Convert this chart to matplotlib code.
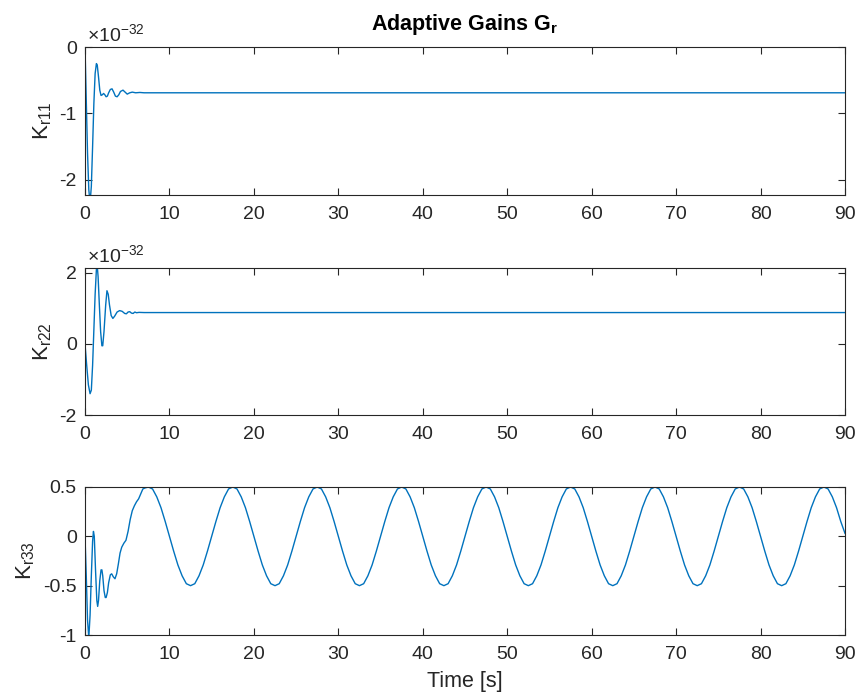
import numpy as np
import matplotlib
matplotlib.use('Agg')
import matplotlib.pyplot as plt

plt.rcParams['font.family'] = ['Liberation Sans', 'DejaVu Sans']
plt.rcParams['mathtext.fontset'] = 'custom'
plt.rcParams['mathtext.rm'] = 'Liberation Sans'
plt.rcParams['mathtext.it'] = 'Liberation Sans'
plt.rcParams['mathtext.bf'] = 'Liberation Sans:bold'

# K_r11 (units of 1e-32)
t1 = [0, 0.15, 0.3, 0.45, 0.6, 0.75, 0.9, 1.05, 1.2, 1.35, 1.45, 1.6, 1.75, 1.9,
      2.05, 2.2, 2.35, 2.5, 2.65, 2.8, 3.0, 3.2, 3.4, 3.6, 3.8, 4.0, 4.2, 4.5,
      4.75, 5.0, 5.3, 5.6, 6.0, 6.5, 7.0, 7.5, 8.0, 90]
k11 = [0, -0.8, -1.6, -2.15, -2.35, -2.1, -1.5, -0.85, -0.4, -0.25, -0.27, -0.45,
       -0.65, -0.73, -0.72, -0.7, -0.72, -0.75, -0.74, -0.69, -0.64, -0.63, -0.68,
       -0.74, -0.75, -0.72, -0.67, -0.65, -0.68, -0.71, -0.69, -0.68, -0.69,
       -0.685, -0.69, -0.69, -0.69, -0.69]

# K_r22 (units of 1e-32)
t2 = [0, 0.2, 0.4, 0.6, 0.75, 0.9, 1.05, 1.2, 1.35, 1.45, 1.55, 1.7, 1.85, 2.0,
      2.1, 2.25, 2.45, 2.6, 2.75, 2.9, 3.1, 3.3, 3.5, 3.8, 4.1, 4.4, 4.7, 4.9,
      5.1, 5.3, 5.5, 5.7, 5.9, 6.1, 6.4, 7.0, 90]
k22 = [0, -0.6, -1.15, -1.4, -1.3, -0.6, 0.4, 1.4, 2.1, 2.2, 1.9, 1.1, 0.35, -0.05,
       -0.05, 0.35, 1.1, 1.5, 1.4, 1.1, 0.8, 0.72, 0.78, 0.9, 0.94, 0.92, 0.86,
       0.85, 0.9, 0.91, 0.87, 0.86, 0.9, 0.88, 0.89, 0.885, 0.885]

# K_r33 transient part
t3a = [0, 0.15, 0.3, 0.45, 0.6, 0.75, 0.9, 1.0, 1.1, 1.25, 1.4, 1.5, 1.6, 1.75,
       1.9, 2.0, 2.1, 2.25, 2.4, 2.5, 2.65, 2.8, 3.0, 3.16, 3.35, 3.55, 3.75,
       3.95, 4.15, 4.35, 4.6, 4.85, 5.1, 5.35, 5.6, 5.85, 6.1, 6.35, 6.6, 6.85,
       7.1]
k33a = [0, -0.4, -0.85, -1.03, -0.8, -0.4, -0.05, 0.05, 0.0, -0.35, -0.65, -0.71,
        -0.65, -0.45, -0.34, -0.34, -0.4, -0.55, -0.62, -0.62, -0.57, -0.47,
        -0.39, -0.38, -0.41, -0.43, -0.38, -0.28, -0.17, -0.11, -0.07, -0.04,
        0.05, 0.17, 0.26, 0.31, 0.35, 0.38, 0.43, 0.48, 0.49]
# K_r33 steady oscillation, sampled every 0.5 s from 7.5 s
t3b = np.arange(7.5, 90.01, 0.5)
k33b = [
    0.5, 0.48, 0.4, 0.29, 0.15, 0, -0.15, -0.29, -0.4, -0.48, -0.5, -0.48, -0.4, -0.29, -0.15, 0, 0.15, 0.29, 0.4, 0.48,
    0.5, 0.48, 0.4, 0.29, 0.15, 0, -0.15, -0.29, -0.4, -0.48, -0.5, -0.48, -0.4, -0.29, -0.15, 0, 0.15, 0.29, 0.4, 0.48,
    0.5, 0.48, 0.4, 0.29, 0.15, 0, -0.15, -0.29, -0.4, -0.48, -0.5, -0.48, -0.4, -0.29, -0.15, 0, 0.15, 0.29, 0.4, 0.48,
    0.5, 0.48, 0.4, 0.29, 0.15, 0, -0.15, -0.29, -0.4, -0.48, -0.5, -0.48, -0.4, -0.29, -0.15, 0, 0.15, 0.29, 0.4, 0.48,
    0.5, 0.48, 0.4, 0.29, 0.15, 0, -0.15, -0.29, -0.4, -0.48, -0.5, -0.48, -0.4, -0.29, -0.15, 0, 0.15, 0.29, 0.4, 0.48,
    0.5, 0.48, 0.4, 0.29, 0.15, 0, -0.15, -0.29, -0.4, -0.48, -0.5, -0.48, -0.4, -0.29, -0.15, 0, 0.15, 0.29, 0.4, 0.48,
    0.5, 0.48, 0.4, 0.29, 0.15, 0, -0.15, -0.29, -0.4, -0.48, -0.5, -0.48, -0.4, -0.29, -0.15, 0, 0.15, 0.29, 0.4, 0.48,
    0.5, 0.48, 0.4, 0.29, 0.15, 0, -0.15, -0.29, -0.4, -0.48, -0.5, -0.48, -0.4, -0.29, -0.15, 0, 0.15, 0.29, 0.4, 0.48,
    0.5, 0.48, 0.4, 0.29, 0.15, 0.03,
]
t3 = np.concatenate([t3a, t3b])
k33 = np.concatenate([k33a, k33b])

xticks = [0, 10, 20, 30, 40, 50, 60, 70, 80, 90]
gray = '#262626'
blue = '#0072BD'

fig = plt.figure(figsize=(8.6, 6.98), dpi=100)
left, width = 85 / 860, 760 / 860
rects = [(195, 148), (415, 147), (635, 148)]
axes = []
for bot, h in rects:
    ax = fig.add_axes([left, 1 - bot / 698, width, h / 698])
    axes.append(ax)

ax1, ax2, ax3 = axes
ax1.plot(t1, k11, color=blue, lw=1.0)
ax1.set_ylim(-2.23, 0)
ax1.set_yticks([-2, -1, 0])
ax1.set_ylabel(r'$\mathregular{K_{r11}}$', fontsize=16, color=gray)

ax2.plot(t2, k22, color=blue, lw=1.0)
ax2.set_ylim(-2, 2.14)
ax2.set_yticks([-2, 0, 2])
ax2.set_ylabel(r'$\mathregular{K_{r22}}$', fontsize=16, color=gray)

ax3.plot(t3, k33, color=blue, lw=1.0)
ax3.set_ylim(-1, 0.5)
ax3.set_yticks([-1, -0.5, 0, 0.5])
ax3.set_yticklabels(['-1', '-0.5', '0', '0.5'])
ax3.set_ylabel(r'$\mathregular{K_{r33}}$', fontsize=16, color=gray)
ax3.set_xlabel('Time [s]', fontsize=15.5, color=gray, labelpad=6)

for ax in (ax1, ax2):
    ax.text(0.002, 1.012, r'$\mathregular{\times10^{-32}}$', transform=ax.transAxes,
            ha='left', va='bottom', fontsize=14, color=gray)
    ax.set_yticklabels([str(v) for v in ax.get_yticks().astype(int)])

for ax in axes:
    ax.set_xlim(0, 90)
    ax.set_xticks(xticks)
    ax.tick_params(direction='in', top=True, right=True, length=5, width=0.8,
                   colors=gray, labelsize=14)
    ax.tick_params(axis='x', pad=8)
    ax.tick_params(axis='y', pad=6)
    for s in ax.spines.values():
        s.set_color(gray)
        s.set_linewidth(0.8)

ax1.set_title(r'Adaptive Gains $\mathbf{G_r}$', fontsize=15.5, fontweight='bold', pad=12)

fig.savefig('out.png', dpi=100)
